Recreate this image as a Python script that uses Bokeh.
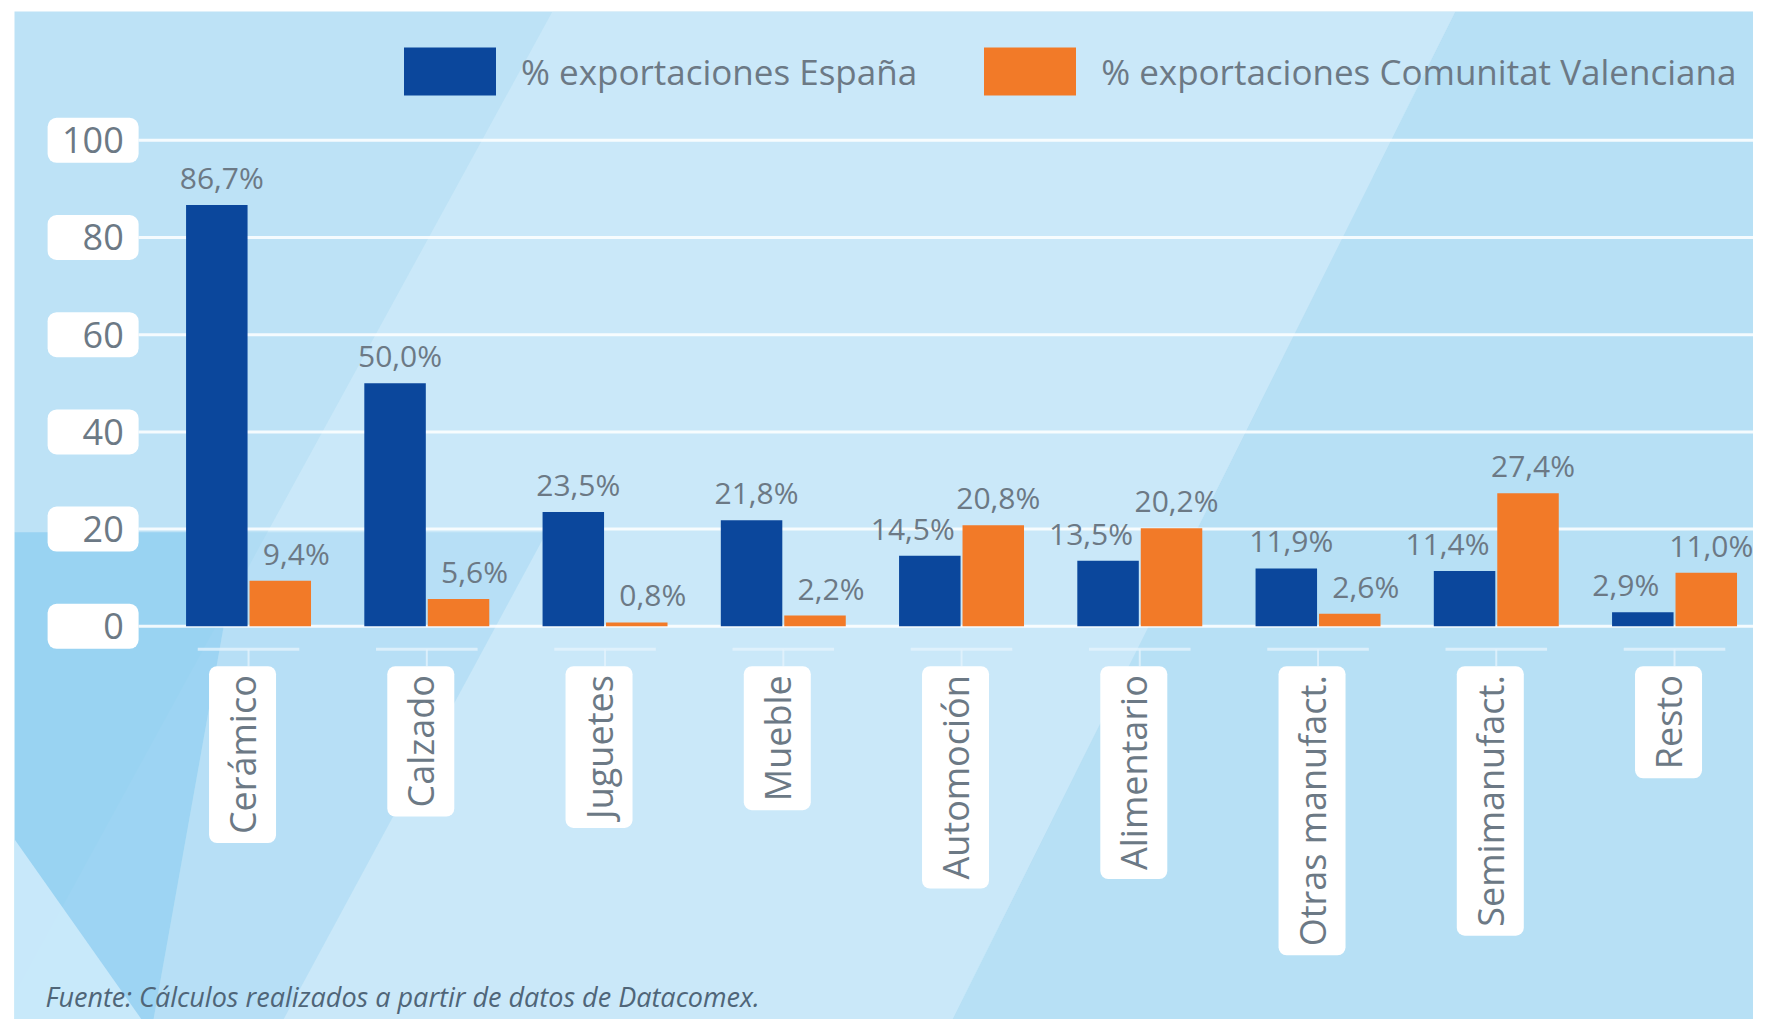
import math
from bokeh.plotting import figure
from bokeh.models import ColumnDataSource, Legend, LegendItem, FixedTicker, Range1d, Label
from bokeh.core.properties import value
from bokeh.embed import file_html
from bokeh.resources import INLINE

# ---------------- data ----------------
categories = ["Cerámico", "Calzado", "Juguetes", "Mueble", "Automoción",
              "Alimentario", "Otras manufact.", "Semimanufact.", "Resto"]
espana = [86.7, 50.0, 23.5, 21.8, 14.5, 13.5, 11.9, 11.4, 2.9]
valenciana = [9.4, 5.6, 0.8, 2.2, 20.8, 20.2, 2.6, 27.4, 11.0]
yticks = [0, 20, 40, 60, 80, 100]
series_names = ["% exportaciones España", "% exportaciones Comunitat Valenciana"]
source_note = "Fuente: Cálculos realizados a partir de datos de Datacomex."

# ---------------- styles ----------------
BLUE = "#0b479c"
ORANGE = "#f27a28"
TEXT = "#6c7985"
BG = "#bde2f6"
FONT = "Open Sans"
DODGE = 0.178
BAR_W = 0.345
X0, X1 = -1.313, 8.443
Y0, Y1 = -80.9, 126.5

def fmt(v):
    return f"{v:.1f}%".replace(".", ",")

n = len(categories)
xs = list(range(n))

p = figure(width=1753, height=1019, output_backend="svg", toolbar_location=None,
           x_range=Range1d(X0, X1), y_range=Range1d(Y0, Y1),
           min_border_left=14, min_border_top=11, min_border_right=0, min_border_bottom=0)
p.background_fill_color = BG
p.border_fill_color = "white"
p.outline_line_color = None
p.grid.visible = False
p.xaxis.visible = False

# y axis drawn inside the panel
p.yaxis.fixed_location = -0.70
p.yaxis.ticker = FixedTicker(ticks=yticks)
p.yaxis.axis_line_color = None
p.yaxis.major_tick_line_color = None
p.yaxis.minor_tick_line_color = None
p.yaxis.major_tick_out = 0
p.yaxis.major_tick_in = 0
p.yaxis.major_label_standoff = 0
p.yaxis.major_label_text_font = FONT
p.yaxis.major_label_text_font_size = "36px"
p.yaxis.major_label_text_color = TEXT

# decorative background bands
p.patch([1.705, 6.771, 3.95, -1.39], [Y1, Y1, Y0, Y0], color="#dcf1fc", alpha=0.42, line_color=None)
p.patch([6.771, X1, X1, 3.95], [Y1, Y1, Y0, Y0], color="#a9d9f3", alpha=0.30, line_color=None)
p.patch([-0.045, 1.672, 0.196, -0.533], [19.34, 19.34, Y0, Y0], color="#9fd5f2", alpha=0.45, line_color=None)
p.patch([X0, -0.045, -0.533, X0], [19.34, 19.34, Y0, Y0], color="#8dcef0", alpha=0.75, line_color=None)
p.patch([X0, -0.60, X0], [-43.8, Y0, Y0], color="#d3edfb", alpha=0.8, line_color=None)

# gridlines
gsrc = ColumnDataSource(dict(x0=[-0.617] * len(yticks), x1=[X1] * len(yticks), y=yticks))
p.segment(x0="x0", y0="y", x1="x1", y1="y", source=gsrc, line_color="white", line_width=3, line_alpha=0.85)

# y tick label boxes
p.rect(x=[-0.872] * len(yticks), y=yticks, width=91, height=45, width_units="screen",
       height_units="screen", fill_color="white", line_color=None, border_radius=9)

# bars
src = ColumnDataSource(dict(
    xb=[x - DODGE for x in xs], xo=[x + DODGE for x in xs],
    esp=espana, val=valenciana, cat=categories,
))
rb = p.vbar(x="xb", top="esp", width=BAR_W, bottom=0, source=src, fill_color=BLUE, line_color=None)
ro = p.vbar(x="xo", top="val", width=BAR_W, bottom=0, source=src, fill_color=ORANGE, line_color=None)

# value labels (shift the lower label away from its taller neighbour)
bx_off, ox_off = [], []
for e, v in zip(espana, valenciana):
    if e >= v:
        bx_off.append(5); ox_off.append(16)
    else:
        bx_off.append(-17); ox_off.append(5)
lsrc = ColumnDataSource(dict(
    xb=[x - DODGE for x in xs], xo=[x + DODGE for x in xs],
    esp=espana, val=valenciana,
    tb=[fmt(v) for v in espana], to=[fmt(v) for v in valenciana],
    bo=bx_off, oo=ox_off,
))
p.text(x="xb", y="esp", text="tb", x_offset="bo", y_offset=-7, source=lsrc,
       text_align="center", text_baseline="bottom", text_font=value(FONT),
       text_font_size="30px", text_color=TEXT)
p.text(x="xo", y="val", text="to", x_offset="oo", y_offset=-7, source=lsrc,
       text_align="center", text_baseline="bottom", text_font=value(FONT),
       text_font_size="30px", text_color=TEXT)

# category ticks and labels
csrc = ColumnDataSource(dict(x=xs, x0=[x - 0.285 for x in xs], x1=[x + 0.285 for x in xs],
                             cat=categories))
p.segment(x0="x0", x1="x1", y0=-4.7, y1=-4.7, source=csrc, line_color="#e4f3fc", line_width=3, line_alpha=0.8)
p.segment(x0="x", x1="x", y0=-4.7, y1=-8.2, source=csrc, line_color="#e4f3fc", line_width=2, line_alpha=0.8)
p.text(x="x", y=-8.2, text="cat", source=csrc, angle=math.pi / 2, x_offset=-6,
       text_align="right", text_baseline="middle", text_font=value(FONT),
       text_font_size="36px", text_color=TEXT,
       background_fill_color="white", padding=9, border_radius=8)

# legend
legend = Legend(items=[LegendItem(label=series_names[0], renderers=[rb]),
                       LegendItem(label=series_names[1], renderers=[ro])],
                orientation="horizontal", location=(378, 918),
                glyph_width=115, glyph_height=60, label_height=60, label_standoff=14,
                spacing=55, padding=0, margin=0, border_line_color=None,
                background_fill_alpha=0, label_text_font=FONT,
                label_text_font_size="35px", label_text_color=TEXT)
p.add_layout(legend, "center")

# source note
p.add_layout(Label(x=31, y=5, x_units="screen", y_units="screen", text=source_note,
                   text_font=FONT, text_font_style="italic", text_font_size="27px",
                   text_color="#4f6578"))

open("out.html", "w").write(file_html(p, INLINE))
